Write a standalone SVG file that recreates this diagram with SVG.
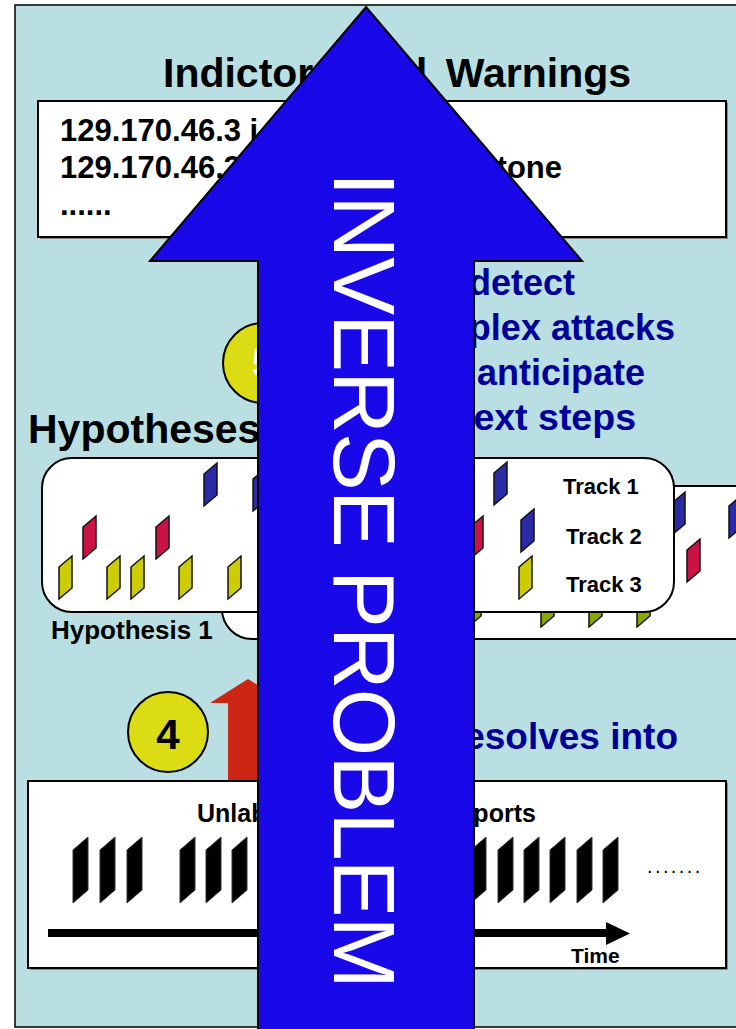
<svg xmlns="http://www.w3.org/2000/svg" width="736" height="1029" viewBox="0 0 736 1029">
<style>
text{font-family:"Liberation Sans",Arial,sans-serif}
.b{font-weight:bold}
.navy{fill:#000099;font-weight:bold}
.box{fill:#fff;stroke:#000;stroke-width:2}
.shadow{fill:#8a8a8a}
.rbox{fill:#fff;stroke:#000;stroke-width:2}
.yel{fill:#cccc00;stroke:#111;stroke-width:1.5}
.red{fill:#cc1144;stroke:#111;stroke-width:1.5}
.blu{fill:#2b2ba6;stroke:#111;stroke-width:1.5}
.grn{fill:#88aa00;stroke:#111;stroke-width:1.5}
.bar{fill:#000;stroke:#333;stroke-width:1}
.circ{fill:#dcdc14;stroke:#000;stroke-width:2}
</style>
<defs>
<path id="rep" d="M0,11 L13,0 L13,32 L0,43 Z"/>
<path id="bar" d="M0,13 L15,0 L15,53 L0,66 Z"/>
</defs>
<rect x="15" y="5" width="740" height="1022" fill="#b9dfe3" stroke="#000" stroke-width="1.5"/>

<g id="warnings">
<text class="b" x="163" y="87" font-size="41" word-spacing="7">Indictors and Warnings</text>
<rect class="shadow" x="40" y="103" width="688" height="136"/>
<rect class="box" x="38" y="101" width="688" height="136"/>
<text class="b" x="60" y="141" font-size="31">129.170.46.3 i</text>
<text class="b" x="60" y="178" font-size="31">129.170.46.3</text>
<text class="b" x="562" y="178" font-size="31" text-anchor="end">stone</text>
<text class="b" x="60" y="215" font-size="31">......</text>
</g>

<g id="step5">
<circle class="circ" cx="263" cy="363" r="40"/>
<text class="b" x="263" y="377" font-size="40" fill="#fff" text-anchor="middle">5</text>
</g>

<g id="goal">
<text class="navy" x="575" y="295" font-size="36" text-anchor="end">detect</text>
<text class="navy" x="675" y="340" font-size="36" text-anchor="end">complex attacks</text>
<text class="navy" x="645" y="385" font-size="36" text-anchor="end">anticipate</text>
<text class="navy" x="636" y="430" font-size="37.5" text-anchor="end">next steps</text>
</g>

<g id="hypotheses">
<text class="b" x="28" y="443" font-size="41">Hypotheses</text>
<g id="hypothesis2">
<rect class="rbox" x="222" y="486" width="560" height="153" rx="30" ry="30"/>
<use href="#rep" class="grn" x="468" y="584"/>
<use href="#rep" class="grn" x="541" y="584"/>
<use href="#rep" class="grn" x="589" y="584"/>
<use href="#rep" class="grn" x="637" y="584"/>
<use href="#rep" class="blu" x="672" y="492"/>
<use href="#rep" class="blu" x="729" y="495"/>
<use href="#rep" class="red" x="687" y="539"/>
</g>
<g id="hypothesis1">
<rect class="rbox" x="42" y="458" width="632" height="154" rx="30" ry="30"/>
<use href="#rep" class="blu" x="204" y="463"/>
<use href="#rep" class="blu" x="253" y="468"/>
<use href="#rep" class="blu" x="494" y="462"/>
<use href="#rep" class="blu" x="521" y="509"/>
<use href="#rep" class="red" x="83" y="516"/>
<use href="#rep" class="red" x="156" y="516"/>
<use href="#rep" class="red" x="470" y="516"/>
<use href="#rep" class="yel" x="59" y="556"/>
<use href="#rep" class="yel" x="107" y="556"/>
<use href="#rep" class="yel" x="131" y="556"/>
<use href="#rep" class="yel" x="179" y="556"/>
<use href="#rep" class="yel" x="228" y="556"/>
<use href="#rep" class="yel" x="519" y="556"/>
<text class="b" x="563" y="494" font-size="22">Track 1</text>
<text class="b" x="566" y="544" font-size="22">Track 2</text>
<text class="b" x="566" y="592" font-size="22">Track 3</text>
</g>
<text class="b" x="51" y="639" font-size="26">Hypothesis 1</text>
</g>

<g id="connectors">
<polygon points="248,679 286,703 268,703 268,790 228,790 228,703 210,703" fill="#cc2514"/>
</g>

<g id="step4">
<circle class="circ" cx="168" cy="732" r="40"/>
<text class="b" x="168" y="749" font-size="42" text-anchor="middle">4</text>
</g>
<text class="navy" x="678" y="749" font-size="37" text-anchor="end">resolves into</text>

<g id="reports">
<rect class="shadow" x="30" y="783" width="698" height="187"/>
<rect class="box" x="28" y="781" width="698" height="187"/>
<text class="b" x="197" y="822" font-size="25" word-spacing="118">Unlabeled Reports</text>
<use href="#bar" class="bar" x="73" y="837"/>
<use href="#bar" class="bar" x="100" y="837"/>
<use href="#bar" class="bar" x="127" y="837"/>
<use href="#bar" class="bar" x="180" y="837"/>
<use href="#bar" class="bar" x="206" y="837"/>
<use href="#bar" class="bar" x="232" y="837"/>
<use href="#bar" class="bar" x="471" y="837"/>
<use href="#bar" class="bar" x="498" y="837"/>
<use href="#bar" class="bar" x="524" y="837"/>
<use href="#bar" class="bar" x="550" y="837"/>
<use href="#bar" class="bar" x="577" y="837"/>
<use href="#bar" class="bar" x="603" y="837"/>
<text x="647" y="873" font-size="20" letter-spacing="2.4">.......</text>
<rect x="48" y="929" width="560" height="8" fill="#000"/>
<polygon points="606,922 630,933.5 606,945" fill="#000"/>
<text class="b" x="571" y="963" font-size="21">Time</text>
</g>

<g id="inverse-arrow">
<polygon points="366,7 582,261 474,261 474,1034 258,1034 258,261 150,261" fill="#1908e8" stroke="#000" stroke-width="2"/>
<text transform="translate(334,172) rotate(90)" x="0" y="0" font-size="87" fill="#fff" textLength="817" lengthAdjust="spacing">INVERSE PROBLEM</text>
</g>
</svg>
